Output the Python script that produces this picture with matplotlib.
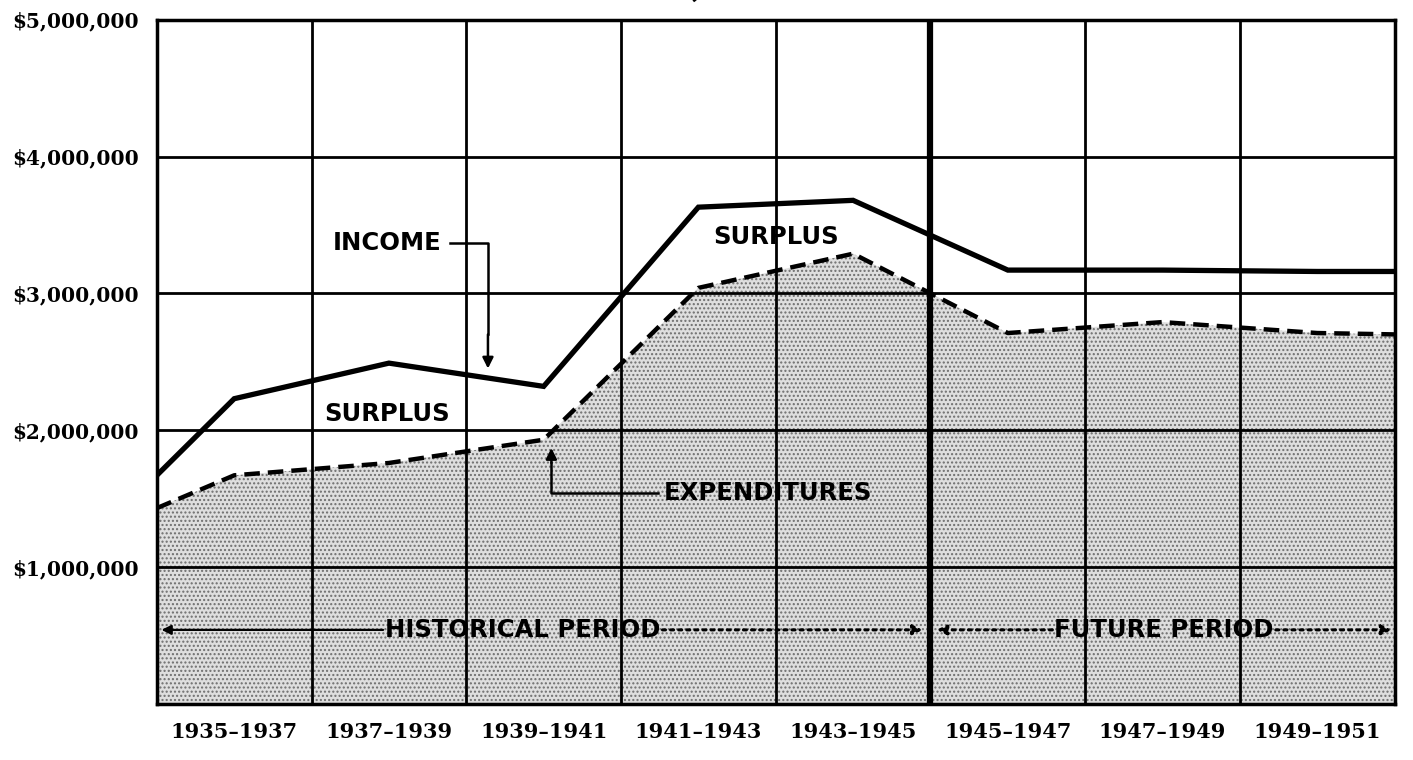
import numpy as np
import matplotlib.pyplot as plt

# period labels and values (dollars)
periods = ['1935–1937', '1937–1939', '1939–1941', '1941–1943', '1943–1945',
           '1945–1947', '1947–1949', '1949–1951']
# x positions: left edge, centre of each period, right edge
xpos = [0, 0.5, 1.5, 2.5, 3.5, 4.5, 5.5, 6.5, 7.5, 8]
income = [1670000, 2230000, 2490000, 2320000, 3630000, 3680000, 3170000,
          3170000, 3160000, 3160000]
expenditures = [1430000, 1670000, 1760000, 1930000, 3040000, 3290000,
                2710000, 2790000, 2710000, 2700000]
yticks = [1000000, 2000000, 3000000, 4000000, 5000000]
ytick_labels = ['$1,000,000', '$2,000,000', '$3,000,000', '$4,000,000', '$5,000,000']

serif = ['DejaVu Serif']
sans = ['DejaVu Sans']

plt.rcParams['hatch.color'] = '#6e6e6e'
plt.rcParams['hatch.linewidth'] = 1.0

fig = plt.figure(figsize=(14.13, 7.6), dpi=100)
ax = fig.add_axes([0.111, 0.074, 0.876, 0.9])

ax.fill_between(xpos, 0, expenditures, facecolor='#dedede', edgecolor='#6e6e6e',
                hatch='....', linewidth=0, zorder=1)

# grid
for y in yticks[:-1]:
    ax.axhline(y, color='black', lw=2, zorder=2)
for x in range(1, 8):
    ax.axvline(x, color='black', lw=4.5 if x == 5 else 2, zorder=2)

ax.plot(xpos, income, color='black', lw=3.8, solid_joinstyle='miter', zorder=4)
ax.plot(xpos, expenditures, color='black', lw=3.2, dashes=(3.5, 1.8), zorder=4)

ax.set_xlim(0, 8)
ax.set_ylim(0, 5000000)
ax.set_xticks(np.arange(8) + 0.5)
ax.set_xticklabels(periods, family=serif, fontweight='bold', fontsize=15)
ax.set_yticks(yticks)
ax.set_yticklabels(ytick_labels, family=serif, fontweight='bold', fontsize=14.5)
ax.tick_params(length=0, pad=13)
for s in ax.spines.values():
    s.set_linewidth(2.5)

lab = dict(family=sans, fontweight='bold', fontsize=17.5, ha='center', va='center', zorder=6)
t_inc = ax.text(1.49, 3365000, 'INCOME', **lab)
ax.text(1.49, 2120000, 'SURPLUS', **lab)
ax.text(4.0, 3410000, 'SURPLUS', **lab)
t_exp = ax.text(3.95, 1540000, 'EXPENDITURES', **lab)

py = 540000
t_his = ax.text(2.365, py, 'HISTORICAL PERIOD', **lab)
t_fut = ax.text(6.51, py, 'FUTURE PERIOD', **lab)

# find text edges in data units so the leaders touch the words
fig.canvas.draw()
inv = ax.transData.inverted()
def edges(t, gap=4):
    bb = t.get_window_extent()
    x0 = inv.transform((bb.x0 - gap, bb.y0))[0]
    x1 = inv.transform((bb.x1 + gap, bb.y0))[0]
    return x0, x1

# leader arrows
x0, x1 = edges(t_inc, 8)
ax.plot([x1, 2.14, 2.14], [3365000, 3365000, 2700000], color='black', lw=1.8, zorder=5)
ax.annotate('', xy=(2.14, 2430000), xytext=(2.14, 2720000),
            arrowprops=dict(arrowstyle='-|>', color='black', lw=1.8, mutation_scale=16), zorder=5)
x0, x1 = edges(t_exp, 6)
ax.plot([x0, 2.55, 2.55], [1540000, 1540000, 1760000], color='black', lw=1.8, zorder=5)
ax.annotate('', xy=(2.55, 1890000), xytext=(2.55, 1740000),
            arrowprops=dict(arrowstyle='-|>', color='black', lw=1.8, mutation_scale=16), zorder=5)

# period arrows
arr = dict(arrowstyle='-|>', color='black', lw=1.6, mutation_scale=14, shrinkA=0, shrinkB=0)
dot = dict(arr, linestyle=':', lw=2.2)
x0, x1 = edges(t_his, 2)
ax.annotate('', xy=(0.03, py), xytext=(x0, py), arrowprops=arr, zorder=5)
ax.annotate('', xy=(4.95, py), xytext=(x1, py), arrowprops=dot, zorder=5)
x0, x1 = edges(t_fut, 2)
ax.annotate('', xy=(5.04, py), xytext=(x0, py), arrowprops=dot, zorder=5)
ax.annotate('', xy=(7.98, py), xytext=(x1, py), arrowprops=dot, zorder=5)

# title cut off at the top of the page (only its lower edge shows)
fig.text(0.49, 1.0 + 3 / 760, ', DOLLARS', family=serif, fontweight='bold',
         fontsize=22, ha='left', va='baseline')

plt.savefig('out.png', dpi=100)
